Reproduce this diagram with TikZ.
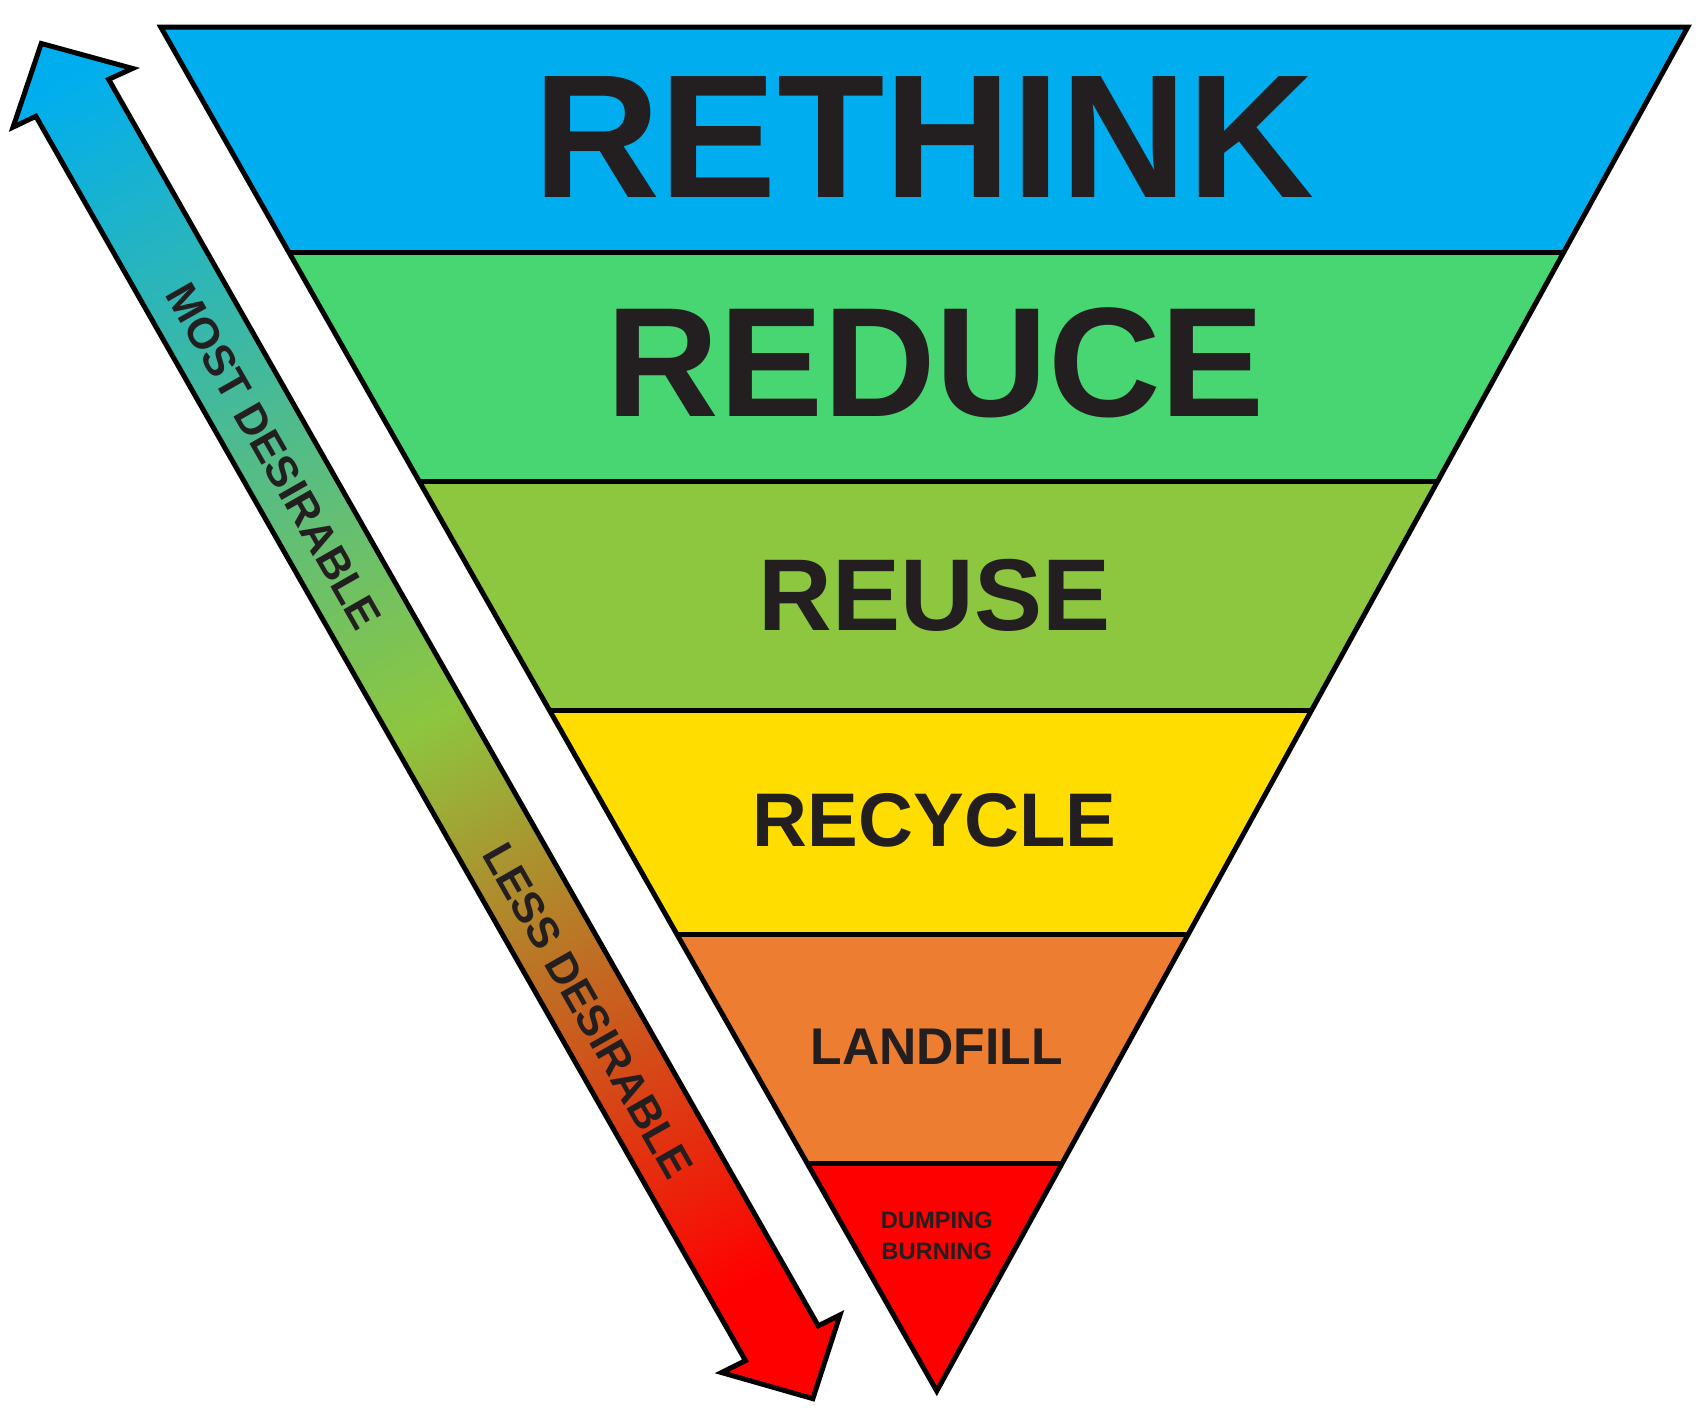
\documentclass[tikz,border=0pt]{standalone}
\usepackage{fontspec}
\setmainfont{Liberation Sans}
\definecolor{cRethink}{RGB}{0,174,239}
\definecolor{cReduce}{RGB}{72,214,114}
\definecolor{cReuse}{RGB}{141,198,63}
\definecolor{cRecycle}{RGB}{255,221,0}
\definecolor{cLandfill}{RGB}{237,125,49}
\definecolor{cDump}{RGB}{255,0,0}
\definecolor{ink}{RGB}{35,31,32}
\pgfdeclareverticalshading{arrowshade}{100bp}{color(0bp)=(cDump); color(22bp)=(cDump); color(50bp)=(cReuse); color(82bp)=(cRethink); color(100bp)=(cRethink)}
\tikzset{
  band/.style={draw=black, line width=1.3pt},
  lbl/.style={inner sep=0pt, text=ink, font=\bfseries},
}
\begin{document}
\begin{tikzpicture}[x=0.01cm,y=-0.01cm]
\useasboundingbox (0,0) rectangle (1568,1314);
\coordinate (TL) at (148,25); \coordinate (TR) at (1553,25); \coordinate (AP) at (862,1280);
\coordinate (L1) at (265.8,232); \coordinate (R1) at (1439,232);
\coordinate (L2) at (385.9,443); \coordinate (R2) at (1323.7,443);
\coordinate (L3) at (506,654); \coordinate (R3) at (1207.5,654);
\coordinate (L4) at (623.2,860); \coordinate (R4) at (1094,860);
\coordinate (L5) at (743.2,1071); \coordinate (R5) at (977.1,1071);
\fill[cRethink] (TL) -- (TR) -- (R1) -- (L1) -- cycle;
\fill[cReduce] (L1) -- (R1) -- (R2) -- (L2) -- cycle;
\fill[cReuse] (L2) -- (R2) -- (R3) -- (L3) -- cycle;
\fill[cRecycle] (L3) -- (R3) -- (R4) -- (L4) -- cycle;
\fill[cLandfill] (L4) -- (R4) -- (R5) -- (L5) -- cycle;
\fill[cDump] (L5) -- (R5) -- (AP) -- cycle;
\draw[band] (L1) -- (R1) (L2) -- (R2) (L3) -- (R3) (L4) -- (R4) (L5) -- (R5);
\draw[band, line join=miter] (TL) -- (TR) -- (AP) -- cycle;
\node[lbl, font=\fontsize{46}{46}\bfseries\selectfont] (t1) at (850,126) {RETHINK};
\node[lbl, font=\fontsize{40.8}{41}\bfseries\selectfont] (t2) at (861,334) {REDUCE};
\node[lbl, font=\fontsize{26.7}{27}\bfseries\selectfont] (t3) at (860,548) {REUSE};
\node[lbl, font=\fontsize{19.9}{20}\bfseries\selectfont] (t4) at (860,755) {RECYCLE};
\node[lbl, font=\fontsize{13.5}{14}\bfseries\selectfont] (t5) at (862,963) {LANDFILL};
\node[lbl, font=\fontsize{6.2}{8}\bfseries\selectfont, align=center] (t6) at (862,1137) {DUMPING\\BURNING};
\coordinate (a1) at (33,107); \coordinate (a2) at (12,117); \coordinate (a3) at (38,40);
\coordinate (a4) at (122,63); \coordinate (a5) at (100,73);
\coordinate (a6) at (753,1220); \coordinate (a7) at (773,1210); \coordinate (a8) at (748,1287);
\coordinate (a9) at (664,1263); \coordinate (a10) at (686,1252);
\path[shading=arrowshade, shading angle=30] (a1) -- (a2) -- (a3) -- (a4) -- (a5) -- (a6) -- (a7) -- (a8) -- (a9) -- (a10) -- cycle;
\draw[band, line join=miter] (a1) -- (a2) -- (a3) -- (a4) -- (a5) -- (a6) -- (a7) -- (a8) -- (a9) -- (a10) -- cycle;
\node[lbl, font=\fontsize{11.4}{12}\bfseries\selectfont, rotate=-60.3] (m) at (252,420) {MOST DESIRABLE};
\node[lbl, font=\fontsize{11.4}{12}\bfseries\selectfont, rotate=-60.3] (l) at (541,930) {LESS DESIRABLE};
\end{tikzpicture}
\end{document}
